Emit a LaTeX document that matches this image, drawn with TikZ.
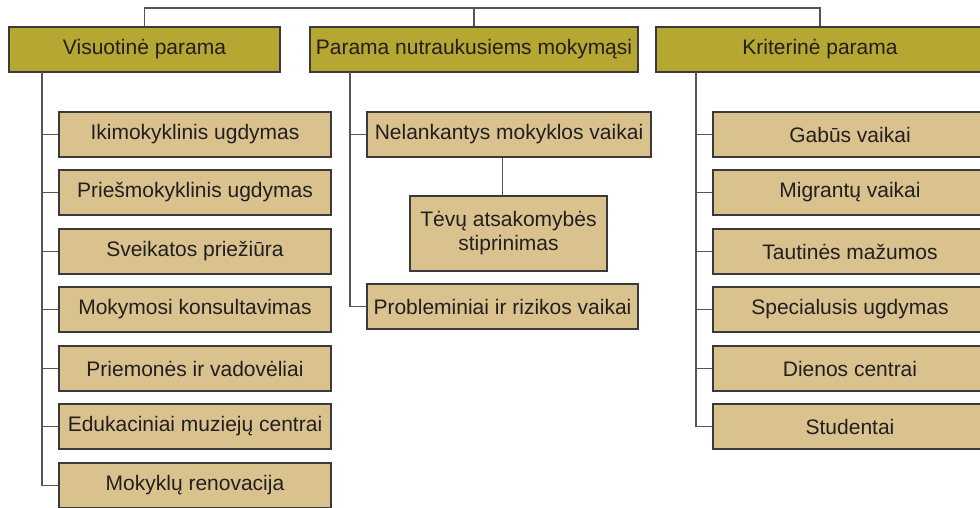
\documentclass[tikz,border=0pt]{standalone}
\usepackage{fontspec}
\setmainfont{Liberation Sans}
\definecolor{hdrfill}{HTML}{B6A632}
\definecolor{itemfill}{HTML}{D9C28E}
\definecolor{boxline}{HTML}{3A3A3A}
\definecolor{conn}{HTML}{555555}
\definecolor{txt}{HTML}{231F20}
\begin{document}
\begin{tikzpicture}[x=1pt,y=-1pt,
  base/.style={draw=boxline,line width=1.3pt,inner sep=0pt,text=txt,
    font=\fontsize{21}{24}\selectfont,align=center},
  hdr/.style={base,fill=hdrfill,minimum height=45pt},
  itembox/.style={base,fill=itemfill,minimum height=45pt},
  link/.style={draw=conn,line width=1.3pt}]
\useasboundingbox (0,0) rectangle (980,508);
\clip (0,0) rectangle (980,508);
\coordinate (top) at (0,8);
% headers
\node[hdr,minimum width=271pt] (h1) at (144.5,49.5) {Visuotinė parama};
\node[hdr,minimum width=328pt] (h2) at (474,49.5) {Parama nutraukusiems mokymąsi};
\node[hdr,minimum width=328pt] (h3) at (820,49.5) {Kriterinė parama};
% left items
\node[itembox,minimum width=272pt] (a1) at (195,134.5) {Ikimokyklinis ugdymas};
\node[itembox,minimum width=272pt] (a2) at (195,192.5) {Priešmokyklinis ugdymas};
\node[itembox,minimum width=272pt] (a3) at (195,251.5) {Sveikatos priežiūra};
\node[itembox,minimum width=272pt] (a4) at (195,309.5) {Mokymosi konsultavimas};
\node[itembox,minimum width=272pt] (a5) at (195,368.5) {Priemonės ir vadovėliai};
\node[itembox,minimum width=272pt] (a6) at (195,426.5) {Edukaciniai muziejų centrai};
\node[itembox,minimum width=272pt] (a7) at (195,485.5) {Mokyklų renovacija};
% middle items
\node[itembox,minimum width=284pt] (m1) at (509,134.5) {Nelankantys mokyklos vaikai};
\node[itembox,minimum width=197pt,minimum height=75pt] (m2) at (508.5,233.5) {Tėvų atsakomybės\\stiprinimas};
\node[itembox,minimum width=271pt] (m3) at (502.5,306.5) {Probleminiai ir rizikos vaikai};
% right items
\node[itembox,minimum width=274pt] (c1) at (850,134.5) {Gabūs vaikai};
\node[itembox,minimum width=274pt] (c2) at (850,192.5) {Migrantų vaikai};
\node[itembox,minimum width=274pt] (c3) at (850,251.5) {Tautinės mažumos};
\node[itembox,minimum width=274pt] (c4) at (850,309.5) {Specialusis ugdymas};
\node[itembox,minimum width=274pt] (c5) at (850,368.5) {Dienos centrai};
\node[itembox,minimum width=274pt] (c6) at (850,426.5) {Studentai};
% trunk origins
\coordinate (lt) at (42,72);
\coordinate (mt) at (350,72);
\coordinate (rt) at (696,72);
% top bus
\draw[link] (h1.north) -- (h1.north |- top) -- (h3.north |- top) -- (h3.north);
\draw[link] (h2.north) -- (h2.north |- top);
% left connectors
\foreach \n in {a1,a2,a3,a4,a5,a6,a7} \draw[link] (lt) |- (\n.west);
% middle connectors
\foreach \n in {m1,m3} \draw[link] (mt) |- (\n.west);
\draw[link] (m2.north -| m3.north) -- (m1.south -| m3.north);
% right connectors
\foreach \n in {c1,c2,c3,c4,c5,c6} \draw[link] (rt) |- (\n.west);
\end{tikzpicture}
\end{document}
